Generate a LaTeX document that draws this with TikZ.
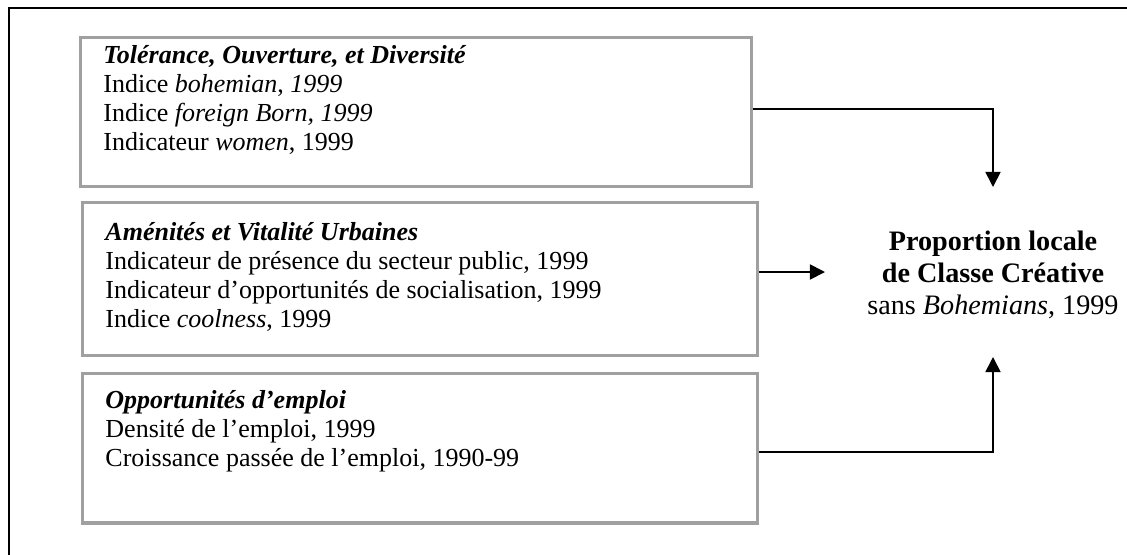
\documentclass[tikz,border=0pt]{standalone}
\usepackage{fontspec}
\setmainfont{Liberation Serif}
\usetikzlibrary{arrows.meta}
\definecolor{boxgray}{HTML}{A0A0A0}
\begin{document}
\begin{tikzpicture}[x=0.4615pt, y=-0.4615pt,
  box/.style={draw=boxgray, line width=1.4pt, inner sep=0pt},
  txt/.style={anchor=north west, align=left, inner sep=0pt, font=\fontsize{12}{13.4}\selectfont},
  conn/.style={line width=0.8pt, -{Triangle[length=7pt,width=7pt]}},
  frame/.style={line width=1pt}]
\useasboundingbox (0,0) rectangle (1127,554);
% outer frame (cropped at right and bottom)
\draw[frame] (9,570) -- (9,8) -- (1140,8);
% boxes
\node[box, minimum width=310.1pt, minimum height=69.2pt] (b1) at (416,112) {};
\node[box, minimum width=311.1pt, minimum height=70.2pt] (b2) at (420,279) {};
\node[box, minimum width=311.1pt, minimum height=69.2pt] (b3) at (420,448) {};
% box texts
\node[txt] (t1) at (103,45) {\textbf{\textit{Tolérance, Ouverture, et Diversité}}\\
  Indice \textit{bohemian}, \textit{1999}\\
  Indice \textit{foreign Born, 1999}\\
  Indicateur \textit{women}, 1999};
\node[txt] (t2) at (105,222) {\textbf{\textit{Aménités et Vitalité Urbaines}}\\
  Indicateur de présence du secteur public, 1999\\
  Indicateur d’opportunités de socialisation, 1999\\
  Indice \textit{coolness}, 1999};
\node[txt] (t3) at (105,390) {\textbf{\textit{Opportunités d’emploi}}\\
  Densité de l’emploi, 1999\\
  Croissance passée de l’emploi, 1990-99};
% target
\node[align=center, inner sep=0pt, font=\fontsize{13}{14.8}\selectfont] (target) at (993,275)
  {\textbf{Proportion locale}\\ \textbf{de Classe Créative}\\ sans \textit{Bohemians}, 1999};
\coordinate (toptip) at (993,187);
\coordinate (bottip) at (993,357);
\coordinate (midtip) at (825,272);
% connectors
\draw[conn] ([yshift=1.4pt]b1.east) -| (toptip);
\draw[conn] (b2.east |- midtip) -- (midtip);
\draw[conn] ([yshift=-1.85pt]b3.east) -| (bottip);
\end{tikzpicture}
\end{document}
